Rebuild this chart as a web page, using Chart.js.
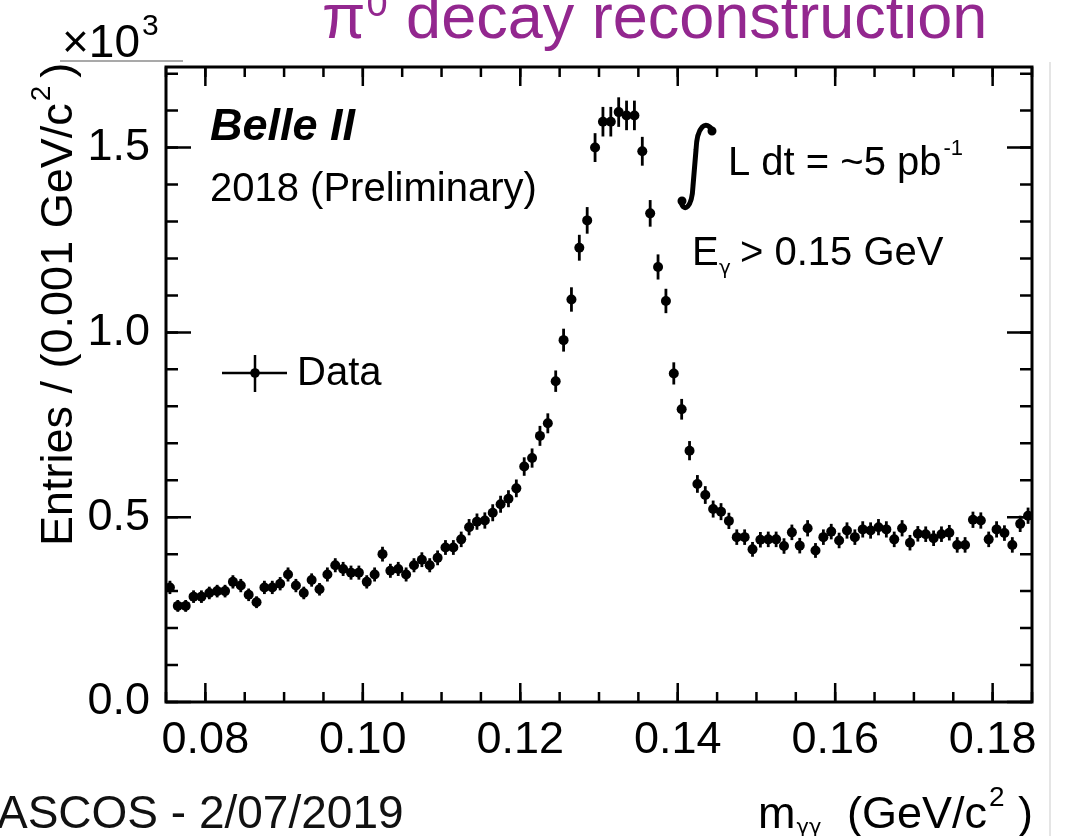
<!DOCTYPE html>
<html>
<head>
<meta charset="utf-8">
<script src="https://cdn.jsdelivr.net/npm/chart.js@4/dist/chart.umd.min.js"></script>
<style>
  body { margin: 0; background: #fff; }
  canvas { display: block; }
</style>
</head>
<body>
<canvas id="pi0Chart" width="1067" height="836"></canvas>
<script>
// Binning de l'histogramme m_gg (GeV/c2)
const binLow = 0.075;
const binWidth = 0.001;

// Entrées par bin (x10^3)
const entries = [
  0.31, 0.26, 0.26, 0.285, 0.285, 0.295, 0.30, 0.30, 0.325, 0.315,
  0.29, 0.27, 0.31, 0.31, 0.32, 0.345, 0.315, 0.295, 0.33, 0.305,
  0.345, 0.37, 0.36, 0.35, 0.35, 0.325, 0.345, 0.40, 0.355, 0.36,
  0.345, 0.37, 0.385, 0.37, 0.39, 0.418, 0.418, 0.44, 0.473, 0.488,
  0.491, 0.512, 0.535, 0.55, 0.578, 0.637, 0.66, 0.72, 0.754, 0.868,
  0.979, 1.089, 1.229, 1.303, 1.50, 1.57, 1.57, 1.596, 1.587, 1.587,
  1.49, 1.322, 1.177, 1.085, 0.889, 0.792, 0.68, 0.59, 0.56, 0.522,
  0.515, 0.49, 0.446, 0.446, 0.413, 0.439, 0.44, 0.44, 0.422, 0.459,
  0.423, 0.47, 0.41, 0.446, 0.461, 0.437, 0.464, 0.446, 0.467, 0.464,
  0.473, 0.467, 0.44, 0.47, 0.431, 0.455, 0.454, 0.443, 0.454, 0.458,
  0.425, 0.425, 0.493, 0.491, 0.44, 0.467, 0.457, 0.425, 0.482, 0.504,
];

// Erreurs statistiques (x10^3)
const errors = [
  0.018, 0.016, 0.016, 0.017, 0.017, 0.017, 0.017, 0.017, 0.018, 0.018,
  0.017, 0.016, 0.018, 0.018, 0.018, 0.019, 0.018, 0.017, 0.018, 0.017,
  0.019, 0.019, 0.019, 0.019, 0.019, 0.018, 0.019, 0.020, 0.019, 0.019,
  0.019, 0.019, 0.020, 0.019, 0.020, 0.020, 0.020, 0.021, 0.022, 0.022,
  0.022, 0.023, 0.023, 0.023, 0.024, 0.025, 0.026, 0.027, 0.027, 0.029,
  0.031, 0.033, 0.035, 0.036, 0.039, 0.040, 0.040, 0.040, 0.040, 0.040,
  0.039, 0.036, 0.034, 0.033, 0.030, 0.028, 0.026, 0.024, 0.024, 0.023,
  0.023, 0.022, 0.021, 0.021, 0.020, 0.021, 0.021, 0.021, 0.021, 0.021,
  0.021, 0.022, 0.020, 0.021, 0.021, 0.021, 0.022, 0.021, 0.022, 0.022,
  0.022, 0.022, 0.021, 0.022, 0.021, 0.021, 0.021, 0.021, 0.021, 0.021,
  0.021, 0.021, 0.022, 0.022, 0.021, 0.022, 0.021, 0.021, 0.022, 0.022,
];

// Graduations
const xTickLabels = [0.08, 0.10, 0.12, 0.14, 0.16, 0.18];
const yTickLabels = [0.0, 0.5, 1.0, 1.5];

const FONT = "'Liberation Sans', Arial, Helvetica, sans-serif";
const GREEK = "'DejaVu Sans', sans-serif";

const points = entries.map((v, i) => ({ x: binLow + binWidth * (i + 0.5), y: v }));

// Barres d'erreur (verticales + demi-largeur de bin)
const errorBars = {
  id: "errorBars",
  beforeDatasetsDraw(chart) {
    const { ctx, scales: { x, y } } = chart;
    ctx.save();
    ctx.strokeStyle = "#000";
    ctx.lineWidth = 2.8;
    points.forEach((p, i) => {
      const px = x.getPixelForValue(p.x);
      ctx.beginPath();
      ctx.moveTo(px, y.getPixelForValue(p.y - errors[i]));
      ctx.lineTo(px, y.getPixelForValue(p.y + errors[i]));
      ctx.stroke();
      const py = y.getPixelForValue(p.y);
      ctx.beginPath();
      ctx.moveTo(x.getPixelForValue(p.x - binWidth / 2), py);
      ctx.lineTo(x.getPixelForValue(p.x + binWidth / 2), py);
      ctx.stroke();
    });
    ctx.restore();
  },
};

// Cadre + ticks vers l'intérieur sur les 4 côtés
const frameTicks = {
  id: "frameTicks",
  afterDatasetsDraw(chart) {
    const { ctx, chartArea: a, scales: { x, y } } = chart;
    ctx.save();
    ctx.strokeStyle = "#000";
    ctx.lineWidth = 2.5;
    ctx.lineCap = "butt";

    const xMinor = [];
    for (let v = 0.075; v < 0.1851; v += 0.005) xMinor.push(+v.toFixed(3));
    const yMinor = [];
    for (let v = 0; v < 1.72; v += 0.1) yMinor.push(+v.toFixed(1));

    const drawX = (v, len) => {
      const px = x.getPixelForValue(v);
      ctx.beginPath();
      ctx.moveTo(px, a.bottom); ctx.lineTo(px, a.bottom - len);
      ctx.moveTo(px, a.top); ctx.lineTo(px, a.top + len);
      ctx.stroke();
    };
    const drawY = (v, len) => {
      const py = y.getPixelForValue(v);
      ctx.beginPath();
      ctx.moveTo(a.left, py); ctx.lineTo(a.left + len, py);
      ctx.moveTo(a.right, py); ctx.lineTo(a.right - len, py);
      ctx.stroke();
    };
    xMinor.forEach(v => drawX(v, 10));
    xTickLabels.forEach(v => drawX(v, 19));
    yMinor.forEach(v => drawY(v, 12));
    yTickLabels.forEach(v => drawY(v, 25));

    ctx.lineWidth = 3;
    ctx.strokeRect(a.left, a.top, a.right - a.left, a.bottom - a.top);
    ctx.restore();
  },
};

// Textes : titre, légende, annotations, titres des axes
const annotations = {
  id: "annotations",
  afterDraw(chart) {
    const ctx = chart.ctx;
    ctx.save();
    ctx.textBaseline = "alphabetic";
    ctx.textAlign = "left";

    // titre violet
    ctx.fillStyle = "#93278f";
    ctx.font = `63px ${FONT}`;
    ctx.fillText("\u03c0", 322, 38);
    let w = ctx.measureText("\u03c0").width;
    ctx.font = `38px ${FONT}`;
    ctx.fillText("0", 322 + w + 1, 16);
    let w0 = ctx.measureText("0").width;
    ctx.font = `63px ${FONT}`;
    ctx.fillText(" decay reconstruction", 322 + w + w0 + 2, 38);

    ctx.fillStyle = "#000";

    // x10^3
    ctx.font = `46px ${FONT}`;
    ctx.fillText("\u00d710", 62, 57);
    w = ctx.measureText("\u00d710").width;
    ctx.font = `30px ${FONT}`;
    ctx.fillText("3", 62 + w + 2, 35);
    ctx.strokeStyle = "#8c8c8c";
    ctx.lineWidth = 1.5;
    ctx.beginPath();
    ctx.moveTo(60, 61); ctx.lineTo(183, 61);
    ctx.stroke();

    // bord de diapo à droite
    ctx.strokeStyle = "#dcdcdc";
    ctx.beginPath();
    ctx.moveTo(1050, 62); ctx.lineTo(1050, 836);
    ctx.stroke();

    // Belle II
    ctx.font = `italic bold 45px ${FONT}`;
    ctx.fillText("Belle II", 210, 140);
    ctx.font = `40px ${FONT}`;
    ctx.fillText("2018 (Preliminary)", 210, 201);

    // légende
    ctx.strokeStyle = "#000";
    ctx.lineWidth = 2.5;
    ctx.beginPath();
    ctx.moveTo(222, 373); ctx.lineTo(287, 373);
    ctx.moveTo(255, 355); ctx.lineTo(255, 392);
    ctx.stroke();
    ctx.beginPath();
    ctx.arc(255, 373, 4.8, 0, Math.PI * 2);
    ctx.fill();
    ctx.font = `40px ${FONT}`;
    ctx.textBaseline = "middle";
    ctx.fillText("Data", 297, 374);
    ctx.textBaseline = "alphabetic";

    // intégrale
    ctx.lineWidth = 5;
    ctx.lineCap = "round";
    ctx.beginPath();
    ctx.moveTo(713, 131);
    ctx.bezierCurveTo(706, 119, 697, 126, 696, 150);
    ctx.lineTo(693, 186);
    ctx.bezierCurveTo(692, 208, 684, 213, 681, 202);
    ctx.stroke();
    ctx.beginPath();
    ctx.arc(712, 131, 4.5, 0, Math.PI * 2);
    ctx.arc(682, 201, 4.5, 0, Math.PI * 2);
    ctx.fill();
    ctx.font = `40px ${FONT}`;
    ctx.fillText("L dt = ~5 pb", 728, 175);
    w = ctx.measureText("L dt = ~5 pb").width;
    ctx.font = `22px ${FONT}`;
    ctx.fillText("-1", 728 + w + 2, 155);

    // E_gamma
    ctx.font = `40px ${FONT}`;
    ctx.fillText("E", 692, 265);
    ctx.font = `20px ${GREEK}`;
    ctx.fillText("\u03b3", 719, 274);
    ctx.font = `40px ${FONT}`;
    ctx.fillText("> 0.15 GeV", 740, 265);

    // titre axe x
    ctx.font = `45px ${FONT}`;
    ctx.fillText("m", 758, 828);
    w = ctx.measureText("m").width;
    ctx.font = `21px ${GREEK}`;
    ctx.fillText("\u03b3\u03b3", 758 + w + 1, 834);
    ctx.font = `45px ${FONT}`;
    ctx.fillText("(GeV/c", 847, 828);
    w = ctx.measureText("(GeV/c").width;
    ctx.font = `28px ${FONT}`;
    ctx.fillText("2", 847 + w + 2, 806);
    ctx.font = `45px ${FONT}`;
    ctx.textAlign = "right";
    ctx.fillText(")", 1033, 828);
    ctx.textAlign = "left";

    // titre axe y (vertical)
    ctx.translate(72, 546);
    ctx.rotate(-Math.PI / 2);
    ctx.font = `45px ${FONT}`;
    ctx.fillText("Entries / (0.001 GeV/c", 0, 0);
    w = ctx.measureText("Entries / (0.001 GeV/c").width;
    ctx.font = `28px ${FONT}`;
    ctx.fillText("2", w + 2, -22);
    const w2 = ctx.measureText("2").width;
    ctx.font = `45px ${FONT}`;
    ctx.fillText(")", w + w2 + 10, 0);
    ctx.setTransform(1, 0, 0, 1, 0, 0);

    // pied de page
    ctx.font = `46px ${FONT}`;
    ctx.fillStyle = "#111";
    ctx.fillText("ASCOS - 2/07/2019", -3, 828);
    ctx.restore();
  },
};

const ctx = document.getElementById("pi0Chart").getContext("2d");

new Chart(ctx, {
  type: "scatter",
  data: {
    datasets: [
      {
        label: "Data",
        data: points,
        pointRadius: 5,
        pointBackgroundColor: "#000",
        pointBorderWidth: 0,
        showLine: false,
      },
    ],
  },
  options: {
    responsive: false,
    animation: false,
    devicePixelRatio: 1,
    layout: { padding: { top: 67, right: 35, left: 0, bottom: 0 } },
    plugins: {
      legend: { display: false },
      tooltip: { enabled: false },
    },
    scales: {
      x: {
        type: "linear",
        min: 0.075,
        max: 0.185,
        grid: { display: false, drawTicks: false },
        border: { display: false },
        afterBuildTicks: (axis) => {
          axis.ticks = xTickLabels.map((v) => ({ value: v }));
        },
        afterFit: (axis) => {
          axis.height = 134;
        },
        ticks: {
          callback: (v) => v.toFixed(2),
          color: "#000",
          font: { family: FONT, size: 45 },
          padding: 12,
          maxRotation: 0,
          autoSkip: false,
        },
      },
      y: {
        type: "linear",
        min: 0,
        max: 1.718,
        grid: { display: false, drawTicks: false },
        border: { display: false },
        afterBuildTicks: (axis) => {
          axis.ticks = yTickLabels.map((v) => ({ value: v }));
        },
        afterFit: (axis) => {
          axis.width = 166;
        },
        ticks: {
          callback: (v) => v.toFixed(1),
          color: "#000",
          font: { family: FONT, size: 45 },
          padding: 16,
          autoSkip: false,
        },
      },
    },
  },
  plugins: [errorBars, frameTicks, annotations],
});
</script>
</body>
</html>
